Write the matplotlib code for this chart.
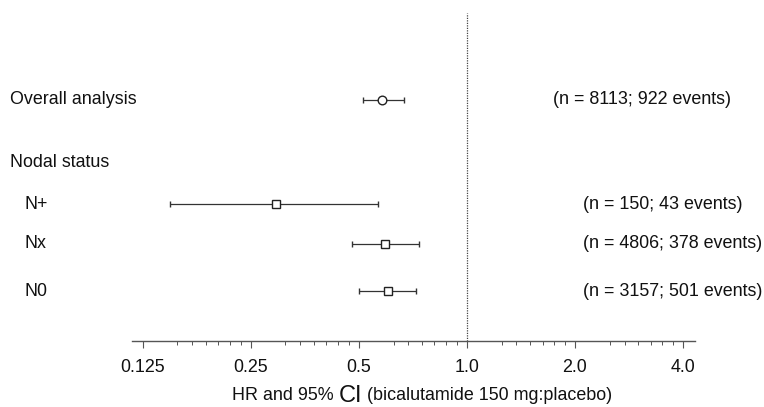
import numpy as np
import matplotlib
matplotlib.use("Agg")
import matplotlib.pyplot as plt
from matplotlib.ticker import FixedLocator, NullFormatter

plt.rcParams['font.family'] = ['Liberation Sans', 'DejaVu Sans']

# data
labels = ["Overall analysis", "N+", "Nx", "N0"]
hr = [0.58, 0.294, 0.592, 0.603]
ci_low = [0.515, 0.149, 0.48, 0.502]
ci_high = [0.67, 0.564, 0.736, 0.722]
markers = ["o", "s", "s", "s"]
counts = ["(n = 8113; 922 events)", "(n = 150; 43 events)",
          "(n = 4806; 378 events)", "(n = 3157; 501 events)"]
tick_vals = [0.125, 0.25, 0.5, 1.0, 2.0, 4.0]
tick_labels = ["0.125", "0.25", "0.5", "1.0", "2.0", "4.0"]

# layout (pixels)
W, H = 764, 407
row_y = [100, 204, 244, 291]
label_x = [10, 24, 24, 24]
count_x = [553, 583, 583, 583]
axis_y = 341
fs = 12.9

fig = plt.figure(figsize=(W / 100, H / 100), dpi=100)
ax = fig.add_axes([131.6 / W, (H - axis_y) / H, (695 - 131.6) / W, axis_y / H])
ax.set_xscale("log", base=2)
ax.set_xlim(0.1165, 4.32)
ax.set_ylim(axis_y, 0)

for i in range(len(hr)):
    ax.errorbar(hr[i], row_y[i], xerr=[[hr[i] - ci_low[i]], [ci_high[i] - hr[i]]],
                fmt=markers[i], ms=6.2, mfc="white", mec="#222222", mew=1.0,
                ecolor="#333333", elinewidth=0.9, capsize=2.4, capthick=0.9)
    fig.text(label_x[i] / W, 1 - row_y[i] / H, labels[i], fontsize=fs,
             ha="left", va="center", color="#111111")
    fig.text(count_x[i] / W, 1 - row_y[i] / H, counts[i], fontsize=fs,
             ha="left", va="center", color="#111111")

fig.text(10 / W, 1 - 162 / H, "Nodal status", fontsize=fs, ha="left",
         va="center", color="#111111")

ax.axvline(1.0, ymin=0, ymax=1 - 13 / axis_y, color="#444444", lw=0.9,
           ls=(0, (1, 1)))

for s in ["left", "right", "top"]:
    ax.spines[s].set_visible(False)
ax.spines["bottom"].set_color("#555555")
ax.spines["bottom"].set_linewidth(1.0)
ax.set_yticks([])

minor = []
for b in tick_vals[:-1]:
    for k in range(2, 8):
        minor.append(b * (1 + k / 8))
ax.xaxis.set_major_locator(FixedLocator(tick_vals))
ax.set_xticklabels(tick_labels, fontsize=fs, color="#111111")
ax.xaxis.set_minor_locator(FixedLocator(minor))
ax.xaxis.set_minor_formatter(NullFormatter())
ax.tick_params(axis="x", which="major", length=5, width=0.8, color="#555555", pad=8)
ax.tick_params(axis="x", which="minor", length=3, width=0.7, color="#555555")

# x label with larger "CI"
fig.canvas.draw()
r = fig.canvas.get_renderer()
yl = 1 - 396 / H
t1 = fig.text(232 / W, yl, "HR and 95% ", fontsize=fs, ha="left", va="center",
              color="#111111")
e1 = t1.get_window_extent(r)
t2 = fig.text(e1.x1 / W, yl, "CI", fontsize=17, ha="left", va="center",
              color="#111111")
e2 = t2.get_window_extent(r)
fig.text(e2.x1 / W, yl, " (bicalutamide 150 mg:placebo)", fontsize=fs,
         ha="left", va="center", color="#111111")

fig.savefig("out.png", dpi=100)
